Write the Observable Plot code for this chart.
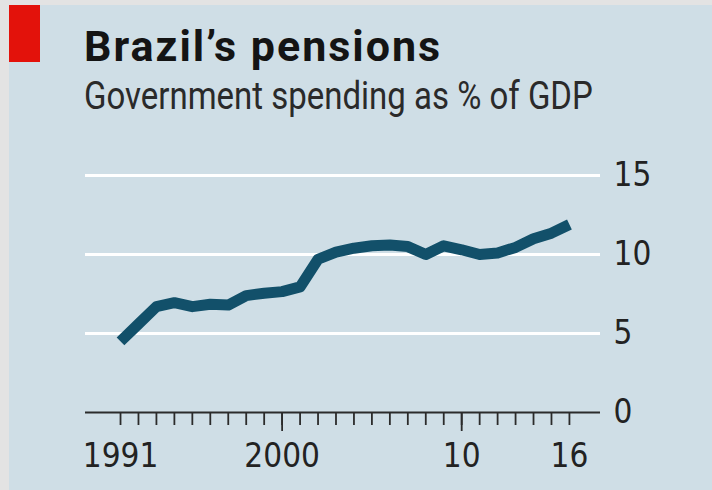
<!DOCTYPE html>
<html>
<head>
<meta charset="utf-8">
<script src="https://cdn.jsdelivr.net/npm/d3@7"></script>
<script src="https://cdn.jsdelivr.net/npm/@observablehq/plot@0.6"></script>
<style>
  html, body { margin: 0; padding: 0; }
  body { width: 712px; height: 490px; position: relative; overflow: hidden; background: #e3e3e3; }
  #panel { position: absolute; left: 9px; top: 5px; right: 0; bottom: 0; background: #cfdee6; }
  #red { position: absolute; left: 9px; top: 5px; width: 31px; height: 57px; background: #e3120b; }
  #title { position: absolute; left: 84px; top: 25px; font-family: Roboto, "Noto Sans", sans-serif; font-weight: 700; font-size: 43px; line-height: 43px; color: #141414; white-space: nowrap; letter-spacing: 2px; }
  #subtitle { position: absolute; left: 84px; top: 77px; font-family: Roboto, "Noto Sans", sans-serif; font-size: 39px; line-height: 39px; color: #2a2a2a; white-space: nowrap; transform-origin: 0 0; }
  #chart { position: absolute; left: 0; top: 130px; }
</style>
</head>
<body>
<div id="panel"></div>
<div id="red"></div>
<div id="title">Brazil’s pensions</div>
<div id="subtitle">Government spending as % of GDP</div>
<div id="chart"></div>
<script>
const years = [1991,1992,1993,1994,1995,1996,1997,1998,1999,2000,2001,2002,2003,2004,2005,2006,2007,2008,2009,2010,2011,2012,2013,2014,2015,2016];
const spending = [4.5,5.6,6.7,6.95,6.7,6.85,6.8,7.4,7.55,7.65,7.95,9.7,10.15,10.4,10.55,10.6,10.5,10.0,10.55,10.3,10.0,10.1,10.45,11.0,11.35,11.9];
const yTicks = [0,5,10,15];
const gridValues = [5,10,15];
const majorTickYears = [2000,2010];
const labelYears = [1991,2000,2010,2016];
const labelTexts = ["1991","2000","10","16"];

const data = years.map((year, i) => ({year, value: spending[i]}));
const labelMap = new Map(labelYears.map((y, i) => [y, labelTexts[i]]));

const plot = Plot.plot({
  width: 712,
  height: 360,
  marginLeft: 85,
  marginRight: 112,
  marginTop: 45,
  marginBottom: 78,
  style: {background: "transparent", fontFamily: "'DejaVu Sans Condensed', Roboto, sans-serif", fontSize: "33px", color: "#222", overflow: "visible"},
  x: {domain: [1989.05, 2017.73], axis: null},
  y: {domain: [0, 15], axis: null},
  marks: [
    Plot.ruleY(gridValues, {stroke: "#ffffff", strokeWidth: 3}),
    Plot.axisX(years, {anchor: "bottom", tickSize: 13, strokeWidth: 1.8, text: null, stroke: "#2b2b2b", label: null}),
    Plot.axisX(majorTickYears, {anchor: "bottom", tickSize: 19, strokeWidth: 1.8, text: null, stroke: "#2b2b2b", label: null}),
    Plot.axisX(labelYears, {anchor: "bottom", tickSize: 0, tickPadding: 31, tickFormat: d => labelMap.get(d), fill: "#222", label: null}),
    Plot.ruleY([0], {stroke: "#2b2b2b", strokeWidth: 2}),
    Plot.axisY(yTicks, {anchor: "right", tickSize: 0, tickPadding: 3, dx: 10, textAnchor: "start", fill: "#222", label: null}),
    Plot.line(data, {x: "year", y: "value", stroke: "#12506a", strokeWidth: 11, strokeLinejoin: "round", strokeLinecap: "butt"})
  ]
});
document.getElementById("chart").appendChild(plot);

const sub = document.getElementById("subtitle");
sub.style.transform = `scaleX(${509 / sub.offsetWidth})`;
</script>
</body>
</html>
